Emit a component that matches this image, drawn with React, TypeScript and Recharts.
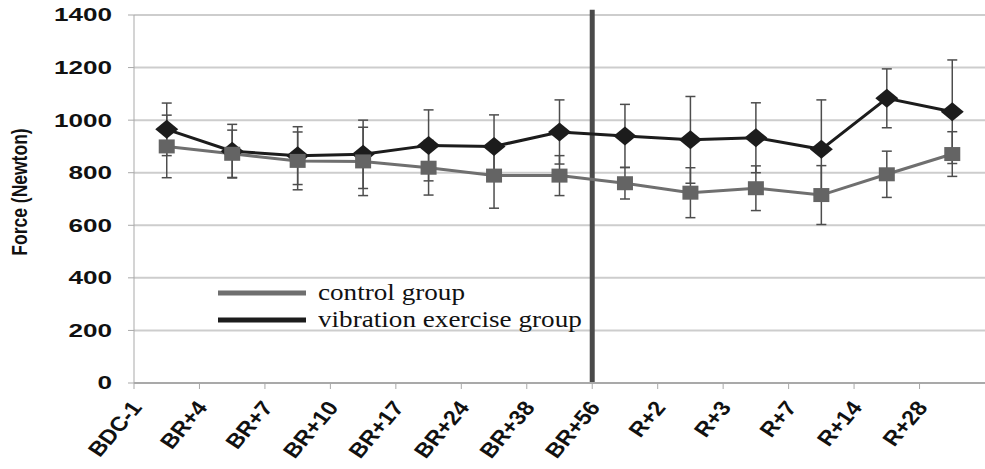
import React from "react";
import {
  ComposedChart,
  Line,
  XAxis,
  YAxis,
  CartesianGrid,
  ErrorBar,
  ReferenceLine,
  Legend,
} from "recharts";

// time points (bed rest / recovery)
const categories = [
  "BDC-1", "BR+4", "BR+7", "BR+10", "BR+17", "BR+24", "BR+38",
  "BR+56", "R+2", "R+3", "R+7", "R+14", "R+28",
];
const controlMean = [900, 872, 845, 843, 819, 789, 789, 760, 724, 741, 715, 794, 871];
const controlSD = [119, 90, 110, 130, 104, 124, 76, 60, 95, 85, 112, 88, 85];
const vibrationMean = [965, 882, 865, 870, 904, 900, 955, 940, 925, 933, 889, 1083, 1032];
const vibrationSD = [100, 102, 110, 130, 135, 120, 122, 120, 165, 133, 188, 112, 197];
const yTicks = [0, 200, 400, 600, 800, 1000, 1200, 1400];

const data = categories.map((c, i) => ({
  idx: i,
  name: c,
  control: controlMean[i],
  controlErr: controlSD[i],
  vibration: vibrationMean[i],
  vibrationErr: vibrationSD[i],
}));

// labels sit on the boundary ticks, Excel style
const boundaryTicks = categories.map((_, i) => i - 0.5);

const GRAY = "#6f6f6f";
const BLACK = "#1c1c1c";
const AXIS = "#a9a9a9";

const XTick = (props: any) => {
  const { x, y, payload } = props;
  const label = categories[Math.round(payload.value + 0.5)] ?? "";
  return (
    <text
      transform={`translate(${x + 9}, ${y + 17}) scale(1.15, 1) rotate(-53)`}
      textAnchor="end"
      fontFamily="'Liberation Sans', Arial, sans-serif"
      fontWeight="bold"
      fontSize={20.5}
      fill="#111"
    >
      {label}
    </text>
  );
};

const YTick = (props: any) => {
  const { y, payload } = props;
  return (
    <text
      transform={`translate(112, ${y}) scale(1.45, 1)`}
      textAnchor="end"
      dy="0.36em"
      fontFamily="'Liberation Sans', Arial, sans-serif"
      fontWeight="bold"
      fontSize={18}
      fill="#111"
    >
      {payload.value}
    </text>
  );
};

const YLabel = () => (
  <text
    transform="translate(19, 192) scale(1.25, 1) rotate(-90)"
    textAnchor="middle"
    dy="0.36em"
    fontFamily="'Liberation Sans', Arial, sans-serif"
    fontWeight="bold"
    fontSize={17.5}
    fill="#111"
  >
    Force (Newton)
  </text>
);

const renderDiamond = (props: any) => {
  const { cx, cy, index } = props;
  if (cx == null || cy == null) return null;
  return (
    <polygon
      key={`d-${index}`}
      points={`${cx},${cy - 9.5} ${cx + 11.5},${cy} ${cx},${cy + 9.5} ${cx - 11.5},${cy}`}
      fill={BLACK}
    />
  );
};

const renderSquare = (props: any) => {
  const { cx, cy, index } = props;
  if (cx == null || cy == null) return null;
  return <rect key={`s-${index}`} x={cx - 8} y={cy - 7} width={16} height={14} fill="#646464" />;
};

const renderLegend = () => {
  const rows = [
    { label: "control group", color: GRAY },
    { label: "vibration exercise group", color: BLACK },
  ];
  return (
    <div>
      {rows.map((r) => (
        <div key={r.label} style={{ display: "flex", alignItems: "center", height: 27 }}>
          <svg width={88} height={8} style={{ marginRight: 12 }}>
            <line x1={0} y1={4} x2={88} y2={4} stroke={r.color} strokeWidth={5} />
          </svg>
          <span
            style={{
              fontFamily: "'Liberation Serif', 'Times New Roman', serif",
              fontSize: 23,
              color: "#111",
              whiteSpace: "nowrap",
              display: "inline-block",
              transform: "scaleX(1.18)",
              transformOrigin: "left center",
              lineHeight: "27px",
            }}
          >
            {r.label}
          </span>
        </div>
      ))}
    </div>
  );
};

export default function App() {
  return (
    <div style={{ position: "absolute", left: 0, top: 0, width: 985, height: 469, background: "#fff" }}>
      <ComposedChart
        width={985}
        height={469}
        data={data}
        margin={{ top: 15, right: 0, bottom: 0, left: 74 }}
      >
        <CartesianGrid horizontal vertical={false} stroke="#cdcdcd" strokeWidth={2} />
        <XAxis
          type="number"
          dataKey="idx"
          domain={[-0.5, 12.5]}
          ticks={boundaryTicks}
          interval={0}
          height={86}
          tickSize={6}
          axisLine={{ stroke: AXIS, strokeWidth: 2 }}
          tickLine={{ stroke: AXIS }}
          tick={<XTick />}
        />
        <YAxis
          type="number"
          domain={[0, 1400]}
          ticks={yTicks}
          interval={0}
          width={60}
          tickSize={6}
          axisLine={{ stroke: AXIS }}
          tickLine={{ stroke: AXIS }}
          tick={<YTick />}
          label={<YLabel />}
        />
        <ReferenceLine
          segment={[{ x: 6.5, y: 0 }, { x: 6.5, y: 1420 }]}
          ifOverflow="visible"
          stroke="#4a4a4a"
          strokeWidth={5}
        />
        <Line
          dataKey="vibration"
          stroke={BLACK}
          strokeWidth={3}
          dot={renderDiamond}
          activeDot={false}
          isAnimationActive={false}
        >
          <ErrorBar dataKey="vibrationErr" direction="y" width={5} stroke="#4d4d4d" strokeWidth={1.5} />
        </Line>
        <Line
          dataKey="control"
          stroke={GRAY}
          strokeWidth={3}
          dot={renderSquare}
          activeDot={false}
          isAnimationActive={false}
        >
          <ErrorBar dataKey="controlErr" direction="y" width={5} stroke="#4d4d4d" strokeWidth={1.5} />
        </Line>
        <Legend
          layout="vertical"
          align="center"
          verticalAlign="middle"
          content={renderLegend}
          wrapperStyle={{ position: "absolute", left: 218, top: 279, width: 420, height: 54 }}
        />
      </ComposedChart>
    </div>
  );
}
